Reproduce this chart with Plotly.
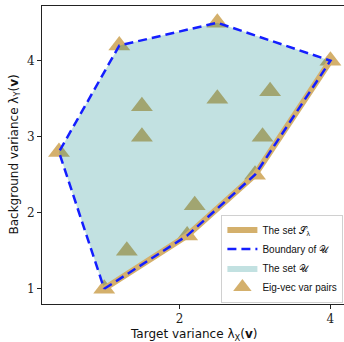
import plotly.graph_objects as go

# Boundary of U (convex hull vertices, closed)
hull_x = [1.0, 2.1, 3.0, 4.0, 2.5, 1.2, 0.4, 1.0]
hull_y = [1.0, 1.7, 2.5, 4.0, 4.5, 4.2, 2.8, 1.0]

# The set S_lambda (lower-right boundary)
s_x = [1.0, 2.1, 3.0, 4.0]
s_y = [1.0, 1.7, 2.5, 4.0]

# Eigen-vector variance pairs
pts_x = [1.0, 2.1, 3.0, 4.0, 2.5, 1.2, 0.4, 1.3, 2.2, 1.5, 1.5, 2.5, 3.1, 3.2]
pts_y = [1.0, 1.7, 2.5, 4.0, 4.5, 4.2, 2.8, 1.5, 2.1, 3.0, 3.4, 3.5, 3.0, 3.6]

x_ticks = [2, 4]
y_ticks = [1, 2, 3, 4]

TAN = "rgb(212,176,108)"
BLUE = "rgb(20,30,255)"

fig = go.Figure()

fig.add_trace(go.Scatter(
    x=pts_x, y=pts_y, mode="markers", name="Eig-vec var pairs",
    marker=dict(symbol="triangle-up", size=19, color=TAN, line=dict(width=0)),
    legendrank=4,
))
fig.add_trace(go.Scatter(
    x=hull_x, y=hull_y, mode="lines", fill="toself", name="The set 𝒰",
    fillcolor="rgba(0,128,128,0.24)", line=dict(width=0),
    legendrank=3,
))
fig.add_trace(go.Scatter(
    x=s_x, y=s_y, mode="lines", name="The set 𝒮<sub>λ</sub>",
    line=dict(color=TAN, width=6),
    legendrank=1,
))
fig.add_trace(go.Scatter(
    x=hull_x, y=hull_y, mode="lines", name="Boundary of 𝒰",
    line=dict(color=BLUE, width=2.5, dash="9px,5px"),
    legendrank=2,
))

axis_common = dict(
    showgrid=False, zeroline=False, showline=True, linecolor="#222", linewidth=1,
    ticks="outside", ticklen=4, tickcolor="#222",
    tickfont=dict(family="DejaVu Serif", size=12, color="#222"),
)

fig.update_layout(
    width=344, height=342,
    margin=dict(l=42, r=0, t=6, b=38),
    plot_bgcolor="white", paper_bgcolor="white",
    xaxis=dict(range=[0.175, 4.18], tickvals=x_ticks, mirror=True, **axis_common),
    yaxis=dict(range=[0.80, 4.72], tickvals=y_ticks, mirror=False, **axis_common),
    showlegend=True,
    legend=dict(
        x=0.998, y=0.005, xanchor="right", yanchor="bottom",
        bgcolor="rgba(255,255,255,0.85)", bordercolor="#d0d0d0", borderwidth=1,
        font=dict(family="Liberation Sans", size=10, color="#111"),
        tracegroupgap=0, itemwidth=30,
    ),
    annotations=[
        dict(text="Target variance λ<sub>X</sub>(<b>v</b>)", xref="paper", yref="paper",
             x=0.5, y=-0.105, xanchor="center", yanchor="middle", showarrow=False,
             font=dict(family="DejaVu Sans", size=12, color="#111")),
        dict(text="Background variance λ<sub>Y</sub>(<b>v</b>)", xref="paper", yref="paper",
             x=-0.091, y=0.5, xanchor="center", yanchor="middle", showarrow=False,
             textangle=-90, font=dict(family="DejaVu Sans", size=12, color="#111")),
    ],
)

fig.write_html("out.html", config={"displayModeBar": False},
               post_script="document.body.style.margin='0';document.body.style.padding='0';")
